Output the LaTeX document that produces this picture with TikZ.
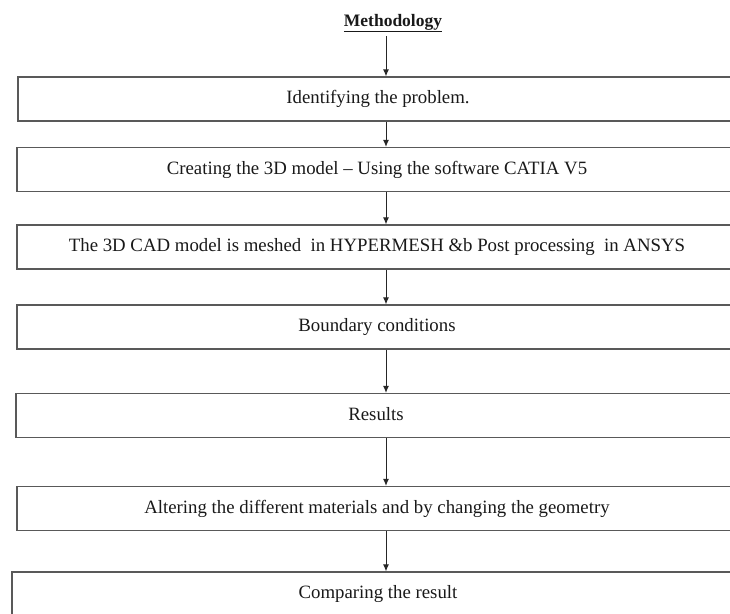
\documentclass[tikz,border=0pt]{standalone}
\usepackage{fontspec}
\setmainfont{Liberation Serif}
\usetikzlibrary{arrows.meta}

\tikzset{
  stage/.style={draw=black!65, line width=1.3pt, rectangle, minimum width=720pt,
    minimum height=44pt, text height=12pt, text depth=3pt, inner sep=0pt,
    font=\fontsize{18.8}{21}\selectfont, text=black!90},
  flow/.style={draw=black!85, line width=0.9pt, -{Latex[length=7pt,width=6pt]}}
}

\begin{document}
\begin{tikzpicture}[x=1pt,y=-1pt]
  \useasboundingbox (0,0) rectangle (730,613);
  \clip (0,0) rectangle (730,613);

  % heading
  \node[font=\fontsize{17.5}{20}\selectfont\bfseries, text=black!90, inner sep=0pt, anchor=base] (title) at (393,26) {\underline{Methodology}};
  \coordinate (ax) at (386,0);

  % the stages, top to bottom
  \node[stage] (b1) at (378,99) {Identifying the problem.};
  \node[stage] (b2) at (377,169.5) {Creating the 3D model -- Using the software CATIA V5};
  \node[stage] (b3) at (377,247) {The 3D CAD model is meshed\ \ in HYPERMESH \&b Post processing\ \ in ANSYS};
  \node[stage] (b4) at (377,327) {Boundary conditions};
  \node[stage] (b5) at (376,415.5) {Results};
  \node[stage] (b6) at (377,508.5) {Altering the different materials and by changing the geometry};
  \node[stage, minimum width=732pt] (b7) at (378,594) {Comparing the result};

  % arrows between them
  \draw[flow] (ax |- title.south) ++(0,4) -- (ax |- b1.north);
  \foreach \a/\b in {b1/b2,b2/b3,b3/b4,b4/b5,b5/b6,b6/b7}
    \draw[flow] (ax |- \a.south) -- (ax |- \b.north);
\end{tikzpicture}
\end{document}
